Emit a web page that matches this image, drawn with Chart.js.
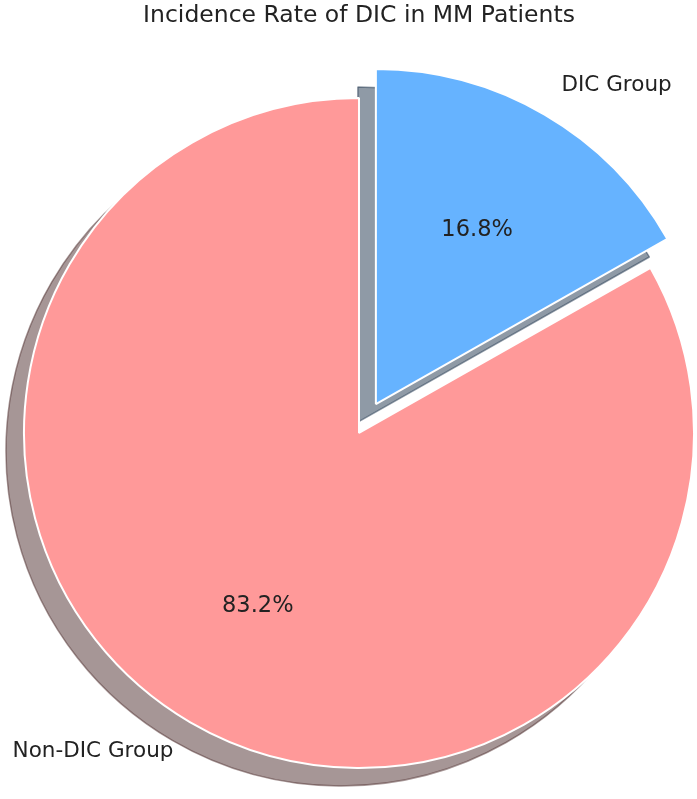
<!DOCTYPE html>
<html>
<head>
<meta charset="utf-8">
<script src="https://cdn.jsdelivr.net/npm/chart.js@4.4.0/dist/chart.umd.min.js"></script>
<style>
  html, body { margin: 0; padding: 0; background: #fff; }
</style>
</head>
<body>
<canvas id="chart" width="697" height="799"></canvas>
<script>
// data
const categories = ['DIC Group', 'Non-DIC Group'];
const shares = [16.8, 83.2];

// look
const sliceColors = ['#66b3ff', '#ff9999'];
const shadowColors = ['rgba(31,54,77,0.5)', 'rgba(77,46,46,0.5)'];
const explode = [0.1, 0];
const SHADOW_DX = -18, SHADOW_DY = 18;
const FONT = '"DejaVu Sans", sans-serif';

function sliceShift(arc, i) {
    const mid = (arc.startAngle + arc.endAngle) / 2;
    const d = explode[i] * arc.outerRadius;
    return [Math.cos(mid) * d, Math.sin(mid) * d];
}

// draws exploded slices with a drop shadow (like matplotlib shadow=True)
const piePlugin = {
    id: 'piePlugin',
    beforeDatasetsDraw(chart) {
        const ctx = chart.ctx;
        const arcs = chart.getDatasetMeta(0).data;

        // shadows first, under every slice
        arcs.forEach((arc, i) => {
            const [dx, dy] = sliceShift(arc, i);
            const saved = arc.options;
            arc.options = Object.assign({}, saved, {
                backgroundColor: shadowColors[i],
                borderColor: shadowColors[i],
                borderWidth: 1.5
            });
            ctx.save();
            ctx.translate(dx + SHADOW_DX, dy + SHADOW_DY);
            arc.draw(ctx);
            ctx.restore();
            arc.options = saved;
        });

        arcs.forEach((arc, i) => {
            const [dx, dy] = sliceShift(arc, i);
            ctx.save();
            ctx.translate(dx, dy);
            arc.draw(ctx);
            ctx.restore();
        });
        return false;
    },
    afterDraw(chart) {
        const ctx = chart.ctx;
        const arcs = chart.getDatasetMeta(0).data;
        const total = shares.reduce((a, b) => a + b, 0);
        ctx.save();
        ctx.fillStyle = '#222';
        ctx.textBaseline = 'middle';
        arcs.forEach((arc, i) => {
            const mid = (arc.startAngle + arc.endAngle) / 2;
            const r = arc.outerRadius;
            const [dx, dy] = sliceShift(arc, i);
            const cx = arc.x + dx, cy = arc.y + dy;
            const c = Math.cos(mid), s = Math.sin(mid);

            ctx.font = '22.5px ' + FONT;
            ctx.textAlign = 'center';
            ctx.fillText((shares[i] / total * 100).toFixed(1) + '%', cx + c * 0.6 * r, cy + s * 0.6 * r);

            ctx.font = '21.5px ' + FONT;
            ctx.textAlign = c > 0 ? 'left' : 'right';
            ctx.fillText(categories[i], cx + c * 1.1 * r, cy + s * 1.1 * r);
        });
        ctx.restore();
    }
};

new Chart(document.getElementById('chart'), {
    type: 'pie',
    data: {
        labels: categories,
        datasets: [{
            data: shares,
            backgroundColor: sliceColors,
            borderColor: '#ffffff',
            borderWidth: 2,
            radius: 335,
            clip: false
        }]
    },
    options: {
        responsive: false,
        animation: false,
        events: [],
        layout: { padding: { left: 21, right: 0, top: 0, bottom: 0 } },
        plugins: {
            legend: { display: false },
            tooltip: { enabled: false },
            title: {
                display: true,
                text: 'Incidence Rate of DIC in MM Patients',
                color: '#222',
                font: { family: 'DejaVu Sans', size: 23.5, weight: 'normal' },
                padding: { top: 2, bottom: 36.8 }
            }
        }
    },
    plugins: [piePlugin]
});
</script>
</body>
</html>
